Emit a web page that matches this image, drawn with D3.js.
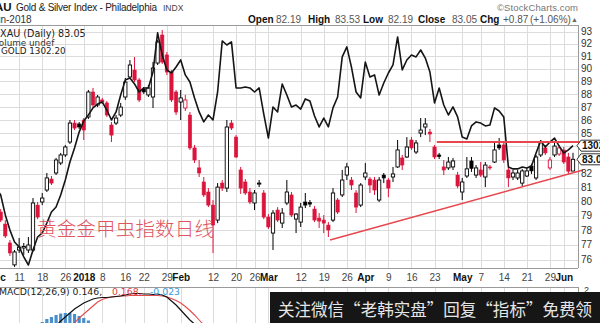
<!DOCTYPE html>
<html><head><meta charset="utf-8">
<script src="https://d3js.org/d3.v7.min.js"></script>
<style>body{margin:0;background:#fff;}svg{display:block;}</style>
</head><body>
<svg id="c" width="600" height="323"></svg>
<script>
// ---------------- DATA ----------------
const dates = [
"2017-12-04","2017-12-05","2017-12-06","2017-12-07","2017-12-08",
"2017-12-11","2017-12-12","2017-12-13","2017-12-14","2017-12-15",
"2017-12-18","2017-12-19","2017-12-20","2017-12-21","2017-12-22",
"2017-12-26","2017-12-27","2017-12-28","2017-12-29",
"2018-01-02","2018-01-03","2018-01-04","2018-01-05",
"2018-01-08","2018-01-09","2018-01-10","2018-01-11","2018-01-12",
"2018-01-16","2018-01-17","2018-01-18","2018-01-19",
"2018-01-22","2018-01-23","2018-01-24","2018-01-25","2018-01-26",
"2018-01-29","2018-01-30","2018-01-31",
"2018-02-01","2018-02-02",
"2018-02-05","2018-02-06","2018-02-07","2018-02-08","2018-02-09",
"2018-02-12","2018-02-13","2018-02-14","2018-02-15","2018-02-16",
"2018-02-20","2018-02-21","2018-02-22","2018-02-23",
"2018-02-26","2018-02-27","2018-02-28",
"2018-03-01","2018-03-02",
"2018-03-05","2018-03-06","2018-03-07","2018-03-08","2018-03-09",
"2018-03-12","2018-03-13","2018-03-14","2018-03-15","2018-03-16",
"2018-03-19","2018-03-20","2018-03-21","2018-03-22","2018-03-23",
"2018-03-26","2018-03-27","2018-03-28","2018-03-29",
"2018-04-02","2018-04-03","2018-04-04","2018-04-05","2018-04-06",
"2018-04-09","2018-04-10","2018-04-11","2018-04-12","2018-04-13",
"2018-04-16","2018-04-17","2018-04-18","2018-04-19","2018-04-20",
"2018-04-23","2018-04-24","2018-04-25","2018-04-26","2018-04-27",
"2018-04-30",
"2018-05-01","2018-05-02","2018-05-03","2018-05-04",
"2018-05-07","2018-05-08","2018-05-09","2018-05-10","2018-05-11",
"2018-05-14","2018-05-15","2018-05-16","2018-05-17","2018-05-18",
"2018-05-21","2018-05-22","2018-05-23","2018-05-24","2018-05-25",
"2018-05-29","2018-05-30","2018-05-31",
"2018-06-01","2018-06-04","2018-06-05"];

const open = [79.75,79.26,78.42,77.12,75.64,76.64,76.78,76.64,76.64,79.75,
79.97,80.82,81.61,82.05,82.78,83.37,84.33,85.76,85.69,85.99,
86.22,88.15,87.14,87.53,87.30,85.61,85.76,86.37,87.76,89.33,
89.88,89.09,88.39,87.92,87.76,90.44,92.71,91.09,89.72,88.15,
87.37,86.91,86.37,83.89,82.42,81.40,80.68,79.75,78.70,81.32,
80.96,85.76,84.70,82.27,81.40,80.68,79.90,81.29,80.61,78.91,
77.80,79.40,78.49,79.90,80.47,78.77,78.56,79.97,79.93,79.47,
78.84,78.70,78.35,78.70,80.11,80.47,81.90,81.54,80.61,79.75,
81.76,81.61,81.54,80.11,81.90,81.54,81.76,82.49,83.15,83.22,
84.48,83.59,85.00,85.46,85.08,83.96,83.37,82.49,82.42,82.49,
81.90,80.68,81.83,82.93,81.90,82.27,81.76,82.49,82.85,84.11,
84.11,82.27,81.76,81.69,81.32,81.83,82.56,81.69,83.37,83.89,
82.42,83.37,83.44,83.74,83.22,82.19];
const high = [79.97,79.47,78.70,77.32,76.64,77.46,77.12,77.53,80.25,79.97,
80.61,82.05,81.83,83.15,83.52,84.11,85.99,85.99,85.84,86.14,
88.31,88.47,87.92,87.69,87.45,85.84,86.37,87.30,89.25,90.68,
90.92,89.25,88.54,88.70,90.52,92.30,93.12,91.33,89.88,88.31,
88.31,87.92,86.60,84.11,83.00,81.76,80.96,80.11,81.32,81.54,
85.99,85.99,84.85,82.49,81.61,80.96,80.82,81.54,80.82,79.12,
79.40,79.61,79.54,81.54,80.68,79.19,79.90,80.61,80.11,79.68,
79.19,79.05,78.56,80.96,80.25,82.27,82.78,81.76,80.82,81.32,
82.78,81.76,81.76,81.76,82.05,81.69,82.49,84.48,83.37,84.70,
84.70,84.48,86.14,86.14,85.31,84.11,83.52,83.00,83.22,83.15,
82.13,81.69,83.22,83.22,82.63,82.85,82.85,82.63,84.26,84.63,
84.33,82.49,82.27,82.27,82.35,82.42,82.71,83.37,84.48,84.11,
83.22,84.26,84.11,83.96,83.52,83.53];
const low = [79.12,78.56,77.46,76.24,75.50,76.44,76.31,76.44,76.51,78.77,
79.75,80.68,81.18,81.90,82.63,83.22,84.18,85.23,85.31,84.48,
86.07,86.98,86.98,87.22,86.22,84.33,85.61,86.22,87.53,89.17,
88.93,87.37,88.00,87.76,86.91,90.28,90.36,89.48,87.37,86.37,
85.99,86.68,83.74,82.78,81.76,80.32,79.61,76.44,78.49,80.75,
80.68,85.23,83.15,80.54,80.47,79.82,79.40,81.03,78.77,78.08,
76.64,78.56,78.15,79.75,78.91,77.80,78.22,79.54,79.61,78.56,
78.15,77.80,77.53,78.56,79.12,80.32,81.54,80.82,79.19,79.61,
81.54,80.61,80.47,79.97,81.32,80.32,81.40,82.42,82.27,83.15,
83.74,83.44,84.70,84.85,84.33,83.07,83.07,81.90,82.27,82.27,
80.96,80.11,81.69,82.13,81.69,81.76,81.03,82.27,82.78,83.74,
82.78,81.03,81.54,81.54,81.11,81.76,81.98,81.54,83.22,83.37,
82.27,83.22,83.30,82.71,81.98,82.19];
const close = [79.26,78.70,77.60,76.44,76.51,76.84,76.88,76.98,79.90,78.91,
80.25,81.69,81.32,83.00,83.37,83.96,85.76,85.38,85.46,85.23,
88.15,87.14,87.76,87.37,86.37,84.85,86.14,86.98,88.93,90.28,
89.09,87.53,88.15,88.47,90.04,92.14,90.52,89.72,87.53,86.60,
87.69,87.53,83.89,83.00,82.05,80.47,79.75,78.35,81.03,80.96,
85.46,85.38,83.22,80.96,80.61,79.97,80.61,81.32,78.91,78.22,
79.19,78.70,79.19,80.68,79.05,79.12,79.61,79.75,79.82,78.70,
78.63,78.49,78.01,80.61,79.26,81.54,82.49,81.18,79.61,81.18,
82.05,81.18,80.82,81.54,81.69,80.96,81.98,83.74,82.63,83.96,
83.89,84.26,85.23,85.69,84.93,83.22,83.26,82.27,82.85,82.93,
81.11,81.40,82.35,82.38,82.42,81.90,82.63,82.42,83.74,83.89,
83.00,81.69,82.05,82.05,82.20,82.20,82.20,83.22,84.33,83.52,
83.00,84.03,83.89,82.85,82.18,83.05];

const gold = [1280.1,1276.5,1266.1,1258.2,1252.0,1249.4,1244.2,1240.0,1247.8,1254.6,
1256.7,1261.9,1267.6,1270.2,1276.5,1284.3,1293.7,1301.0,1309.3,1315.1,
1318.2,1321.9,1323.9,1325.0,1320.8,1315.6,1319.8,1328.6,1336.5,1337.5,
1334.4,1330.2,1332.3,1332.3,1340.6,1361.0,1349.5,1341.7,1340.1,1343.2,
1346.9,1339.1,1335.4,1327.1,1319.8,1314.6,1318.2,1315.6,1330.2,1356.8,
1354.7,1356.3,1332.3,1332.3,1332.8,1332.3,1330.2,1332.3,1318.7,1306.2,
1322.4,1319.8,1334.4,1328.6,1322.4,1323.4,1321.3,1326.6,1325.5,1317.7,
1312.0,1316.6,1312.0,1321.9,1327.6,1348.5,1353.7,1343.2,1330.2,1327.1,
1345.8,1338.0,1339.1,1328.6,1334.9,1340.1,1344.3,1358.9,1341.7,1346.9,
1349.5,1348.5,1352.1,1347.9,1340.6,1324.5,1332.3,1323.4,1318.2,1322.4,
1317.2,1306.7,1305.7,1312.5,1314.6,1314.0,1312.5,1313.0,1321.9,1320.3,
1317.2,1291.1,1290.1,1290.1,1291.1,1290.6,1291.6,1298.4,1304.7,1301.5,
1304.1,1306.2,1302.0,1298.4,1300.0,1302.2];

// MACD (visible part only; the rest lies under the overlay banner)
const macdLineFrom = "2017-12-21";
const macdLine = [0.56,0.76,0.92,1.08,1.24,1.36,1.48,1.56,1.64,1.68,1.70,1.70,1.72,1.74,1.76,1.80,
1.84,1.86,1.86,1.84,1.84,1.82,1.84,1.80,1.72,1.56,1.40,1.20,1.00,0.80,0.64,0.48];
const macdSignalFrom = "2017-12-27";
const macdSignal = [0.48,0.68,0.88,1.04,1.20,1.36,1.52,1.62,1.68,1.72,1.74,1.76,1.76,1.78,1.78,1.78,
1.78,1.78,1.78,1.78,1.76,1.72,1.66,1.58,1.48,1.34,1.18,1.00,0.80,0.60,0.40];
const macdHistFrom = "2017-12-15";
const macdHist = [0.64,0.72,0.84,0.92,1.00,1.06,1.08,1.08,1.04,0.96,0.88,0.78,0.68,0.56];

// hand-drawn trend lines: [trading-day index, price]
const resistanceLine = [[95.5,84.33],[126.5,84.33]];
const supportLine = [[72.36,77.32],[127.2,82.27]];

const priceTicks = [76,77,78,79,80,81,82,83,84,85,86,87,88,89,90,91,92,93];
const tickDates = ["2017-12-04","2017-12-11","2017-12-18","2017-12-26","2018-01-02","2018-01-08","2018-01-16",
"2018-01-22","2018-01-29","2018-02-01","2018-02-12","2018-02-20","2018-02-26","2018-03-01","2018-03-12",
"2018-03-19","2018-03-26","2018-04-02","2018-04-09","2018-04-16","2018-04-23","2018-05-01","2018-05-07",
"2018-05-14","2018-05-21","2018-05-29","2018-06-01"];
const tickLabels = ["Dec","11","18","26","2018","8","16","22","29","Feb","12","20","26","Mar","12",
"19","26","Apr","9","16","23","May","7","14","21","29","Jun"];
const boldLabels = ["Dec","2018","Feb","Mar","Apr","May","Jun"];

// ---------------- CHART ----------------
const svg = d3.select("#c");
const P = {left:0, right:578, top:25, bottom:268, mTop:287, mBottom:323};
const RED = "#dc143c", LINE_RED = "#e8464c";
const FONT = "'Liberation Sans', Arial, sans-serif";
const VFONT = "'DejaVu Sans', Verdana, sans-serif";

const x = d3.scaleLinear().domain([8,125]).range([33,573]);
const y = d3.scaleLog().domain([76,93]).range([259.5,31.5]);
const yGold = d3.scaleLinear().domain([1240,1362]).range([265,31]);
const yMacd = d3.scaleLinear().domain([0,2]).range([340,290]);
const idx = d => dates.indexOf(d);

const defs = svg.append("defs");
defs.append("clipPath").attr("id","pclip").append("rect")
  .attr("x",P.left).attr("y",P.top).attr("width",P.right-P.left).attr("height",P.bottom-P.top);
defs.append("clipPath").attr("id","mclip").append("rect")
  .attr("x",P.left).attr("y",P.mTop).attr("width",P.right-P.left).attr("height",P.mBottom-P.mTop);

svg.append("rect").attr("width",600).attr("height",323).attr("fill","#fff");

// grid
const tickIdx = tickDates.map(idx);
const gGrid = svg.append("g");
gGrid.append("g").attr("transform",`translate(${P.right},0)`)
  .call(d3.axisLeft(y).tickValues(priceTicks).tickSize(P.right-P.left).tickFormat(""));
gGrid.append("g").attr("transform",`translate(0,${P.bottom})`)
  .call(d3.axisBottom(x).tickValues(tickIdx).tickSize(-(P.bottom-P.top)).tickFormat(""));
gGrid.append("g").attr("transform",`translate(0,${P.mBottom})`)
  .call(d3.axisBottom(x).tickValues(tickIdx).tickSize(-(P.mBottom-P.mTop)).tickFormat(""));
gGrid.selectAll(".domain").remove();
gGrid.selectAll("line").attr("stroke","#dcdcdc").attr("stroke-width",1).attr("shape-rendering","crispEdges");

// frame
const frame = svg.append("g").attr("stroke","#9a9a9a").attr("stroke-width",1).attr("shape-rendering","crispEdges");
frame.append("line").attr("x1",0).attr("x2",P.right).attr("y1",P.top).attr("y2",P.top);
frame.append("line").attr("x1",0).attr("x2",P.right).attr("y1",P.bottom).attr("y2",P.bottom);
frame.append("line").attr("x1",P.right).attr("x2",P.right).attr("y1",P.top).attr("y2",P.bottom);
frame.append("line").attr("x1",0).attr("x2",P.right).attr("y1",P.mTop).attr("y2",P.mTop);
frame.append("line").attr("x1",P.right).attr("x2",P.right).attr("y1",P.mTop).attr("y2",P.mBottom);

// candles
const candles = dates.map((d,i)=>({i,o:open[i],h:high[i],l:low[i],c:close[i],
  pc: i>0?close[i-1]:open[i]}));
const gC = svg.append("g").attr("clip-path","url(#pclip)");
const bw = 3.3;
candles.forEach(k=>{
  const col = k.c < k.pc ? RED : "#000";
  const filled = k.c < k.o;
  const cx = x(k.i);
  const top = y(Math.max(k.o,k.c)), bot = y(Math.min(k.o,k.c));
  gC.append("line").attr("x1",cx).attr("x2",cx).attr("y1",y(k.h)).attr("y2",y(k.l))
    .attr("stroke",col).attr("stroke-width",1);
  gC.append("rect").attr("x",cx-bw/2).attr("y",top).attr("width",bw)
    .attr("height",Math.max(1,bot-top))
    .attr("fill",filled?col:"#fff").attr("stroke",col).attr("stroke-width",filled?0.6:0.9);
});

// gold overlay
gC.append("path").datum(gold)
  .attr("d",d3.line().x((d,i)=>x(i)).y(d=>yGold(d)))
  .attr("fill","none").attr("stroke","#151515").attr("stroke-width",1.6).attr("stroke-linejoin","round");

// trend lines
const tl = d3.line().x(d=>x(d[0])).y(d=>y(d[1]));
svg.append("path").datum(resistanceLine).attr("d",tl).attr("stroke",LINE_RED).attr("stroke-width",2).attr("fill","none");
svg.append("path").datum(supportLine).attr("d",tl).attr("stroke",LINE_RED).attr("stroke-width",1.5).attr("fill","none");

// last-value tag positions
const goldTagY = yGold(gold[gold.length-1]);
const priceTagY = y(close[close.length-1]);

// right price axis (labels hidden under the value tags are left out, as in the original)
const labelTicks = priceTicks.filter(v => Math.abs(y(v)-goldTagY) > 7 && Math.abs(y(v)-priceTagY) > 7);
const gY = svg.append("g").attr("transform",`translate(${P.right},0)`)
  .call(d3.axisRight(y).tickValues(labelTicks).tickFormat(d3.format("d")).tickSize(0).tickPadding(3));
gY.select(".domain").remove();
gY.selectAll("text").attr("font-family",FONT).attr("font-size",10).attr("fill","#333");

// bottom date axis
const gX = svg.append("g").attr("transform",`translate(0,${P.bottom})`)
  .call(d3.axisBottom(x).tickValues(tickIdx).tickFormat((d,i)=>tickLabels[i]).tickSize(0).tickPadding(6));
gX.select(".domain").remove();
gX.selectAll("text").attr("font-family",FONT).attr("font-size",10)
  .attr("font-weight",(d,i)=>boldLabels.includes(tickLabels[i])?"bold":"normal")
  .attr("fill",(d,i)=>boldLabels.includes(tickLabels[i])?"#111":"#444");

// last-value tags
function tag(yc, label){
  const h = 11, x0 = P.right-1;
  svg.append("path")
    .attr("d",`M${x0},${yc} L${x0+4},${yc-h/2} H${x0+40} V${yc+h/2} H${x0+4} Z`)
    .attr("fill","#fff").attr("stroke","#333").attr("stroke-width",1);
  svg.append("text").attr("x",x0+5).attr("y",yc+3.6).text(label)
    .attr("font-family",FONT).attr("font-size",10).attr("font-weight","bold").attr("fill","#111");
}
tag(goldTagY, d3.format(".2f")(gold[gold.length-1]));
tag(priceTagY, d3.format(".2f")(close[close.length-1]));

// MACD panel
const gM = svg.append("g").attr("clip-path","url(#mclip)");
const hs = idx(macdHistFrom);
macdHist.forEach((v,k)=>{
  gM.append("rect").attr("x",x(hs+k)-1.6).attr("width",3.2)
    .attr("y",yMacd(v)).attr("height",yMacd(0)-yMacd(v)).attr("fill","#4a8fcc");
});
const ms = idx(macdSignalFrom), ml = idx(macdLineFrom);
gM.append("path").datum(macdSignal).attr("d",d3.line().x((d,k)=>x(ms+k)).y(d=>yMacd(d)))
  .attr("fill","none").attr("stroke","#e24b4b").attr("stroke-width",1.1);
gM.append("path").datum(macdLine).attr("d",d3.line().x((d,k)=>x(ml+k)).y(d=>yMacd(d)))
  .attr("fill","none").attr("stroke","#111").attr("stroke-width",1.2);
svg.append("text").attr("x",584).attr("y",yMacd(2)+3).text("2")
  .attr("font-family",FONT).attr("font-size",9).attr("fill","#333");

// text: header
function t(xp, yp, s, o={}){
  const e = svg.append("text").attr("x",xp).attr("y",yp).text(s)
    .attr("font-family",o.f||FONT).attr("font-size",o.s||10)
    .attr("font-weight",o.w||"normal").attr("fill",o.c||"#222");
  if(o.len) e.attr("textLength",o.len);
  return e;
}
t(-19,11,"$XAU",{s:11.5,w:"bold",c:"#111"});
t(16,11,"Gold & Silver Index - Philadelphia",{s:10,len:141,c:"#222"});
t(163,11,"INDX",{s:8.5,c:"#444"});
t(497,11,"©StockCharts.com",{s:9.5,c:"#777",len:81});
t(-19,22.5,"5-Jun-2018",{s:10,c:"#333"});
t(248,22.5,"Open",{w:"bold",c:"#111"}); t(276,22.5,"82.19",{c:"#555"});
t(308,22.5,"High",{w:"bold",c:"#111"}); t(335,22.5,"83.53",{c:"#555"});
t(363,22.5,"Low",{w:"bold",c:"#111"}); t(388,22.5,"82.19",{c:"#555"});
t(418,22.5,"Close",{w:"bold",c:"#111"}); t(452,22.5,"83.05",{c:"#555"});
t(480,22.5,"Chg",{w:"bold",c:"#111"}); t(503,22.5,"+0.87",{c:"#555"});
t(530,22.5,"(+1.06%)",{c:"#555"}); t(571,22,"▲",{s:7,c:"#666"});

// legend inside plot
t(-6,37,"$XAU (Daily) 83.05",{f:VFONT,s:9.6,c:"#222"});
t(-6.5,45.5,"Volume undef",{f:VFONT,s:8.8,c:"#333"});
t(1,54,"GOLD 1302.20",{f:VFONT,s:8.8,c:"#222"});

// MACD legend
t(-1,295,"MACD(12,26,9) 0.146,",{f:VFONT,s:9.3,c:"#222"});
t(112,295,"0.168,",{f:VFONT,s:9.3,c:"#e23c3c"});
t(150,295,"-0.023",{f:VFONT,s:9.3,c:"#3a9ad9"});

// annotation
t(37,236,"黄金金甲虫指数日线",{f:"'Noto Sans CJK SC', sans-serif",s:19.5,c:"#e05560",w:300,len:177});

// banner
svg.append("rect").attr("x",270).attr("y",292).attr("width",330).attr("height",31).attr("fill","#161616");
t(278,316,"关注微信“老韩实盘”回复“指标”免费领",{f:"'Noto Sans CJK SC', sans-serif",s:16.5,c:"#e6e6e6",len:314});
</script>
</body></html>
